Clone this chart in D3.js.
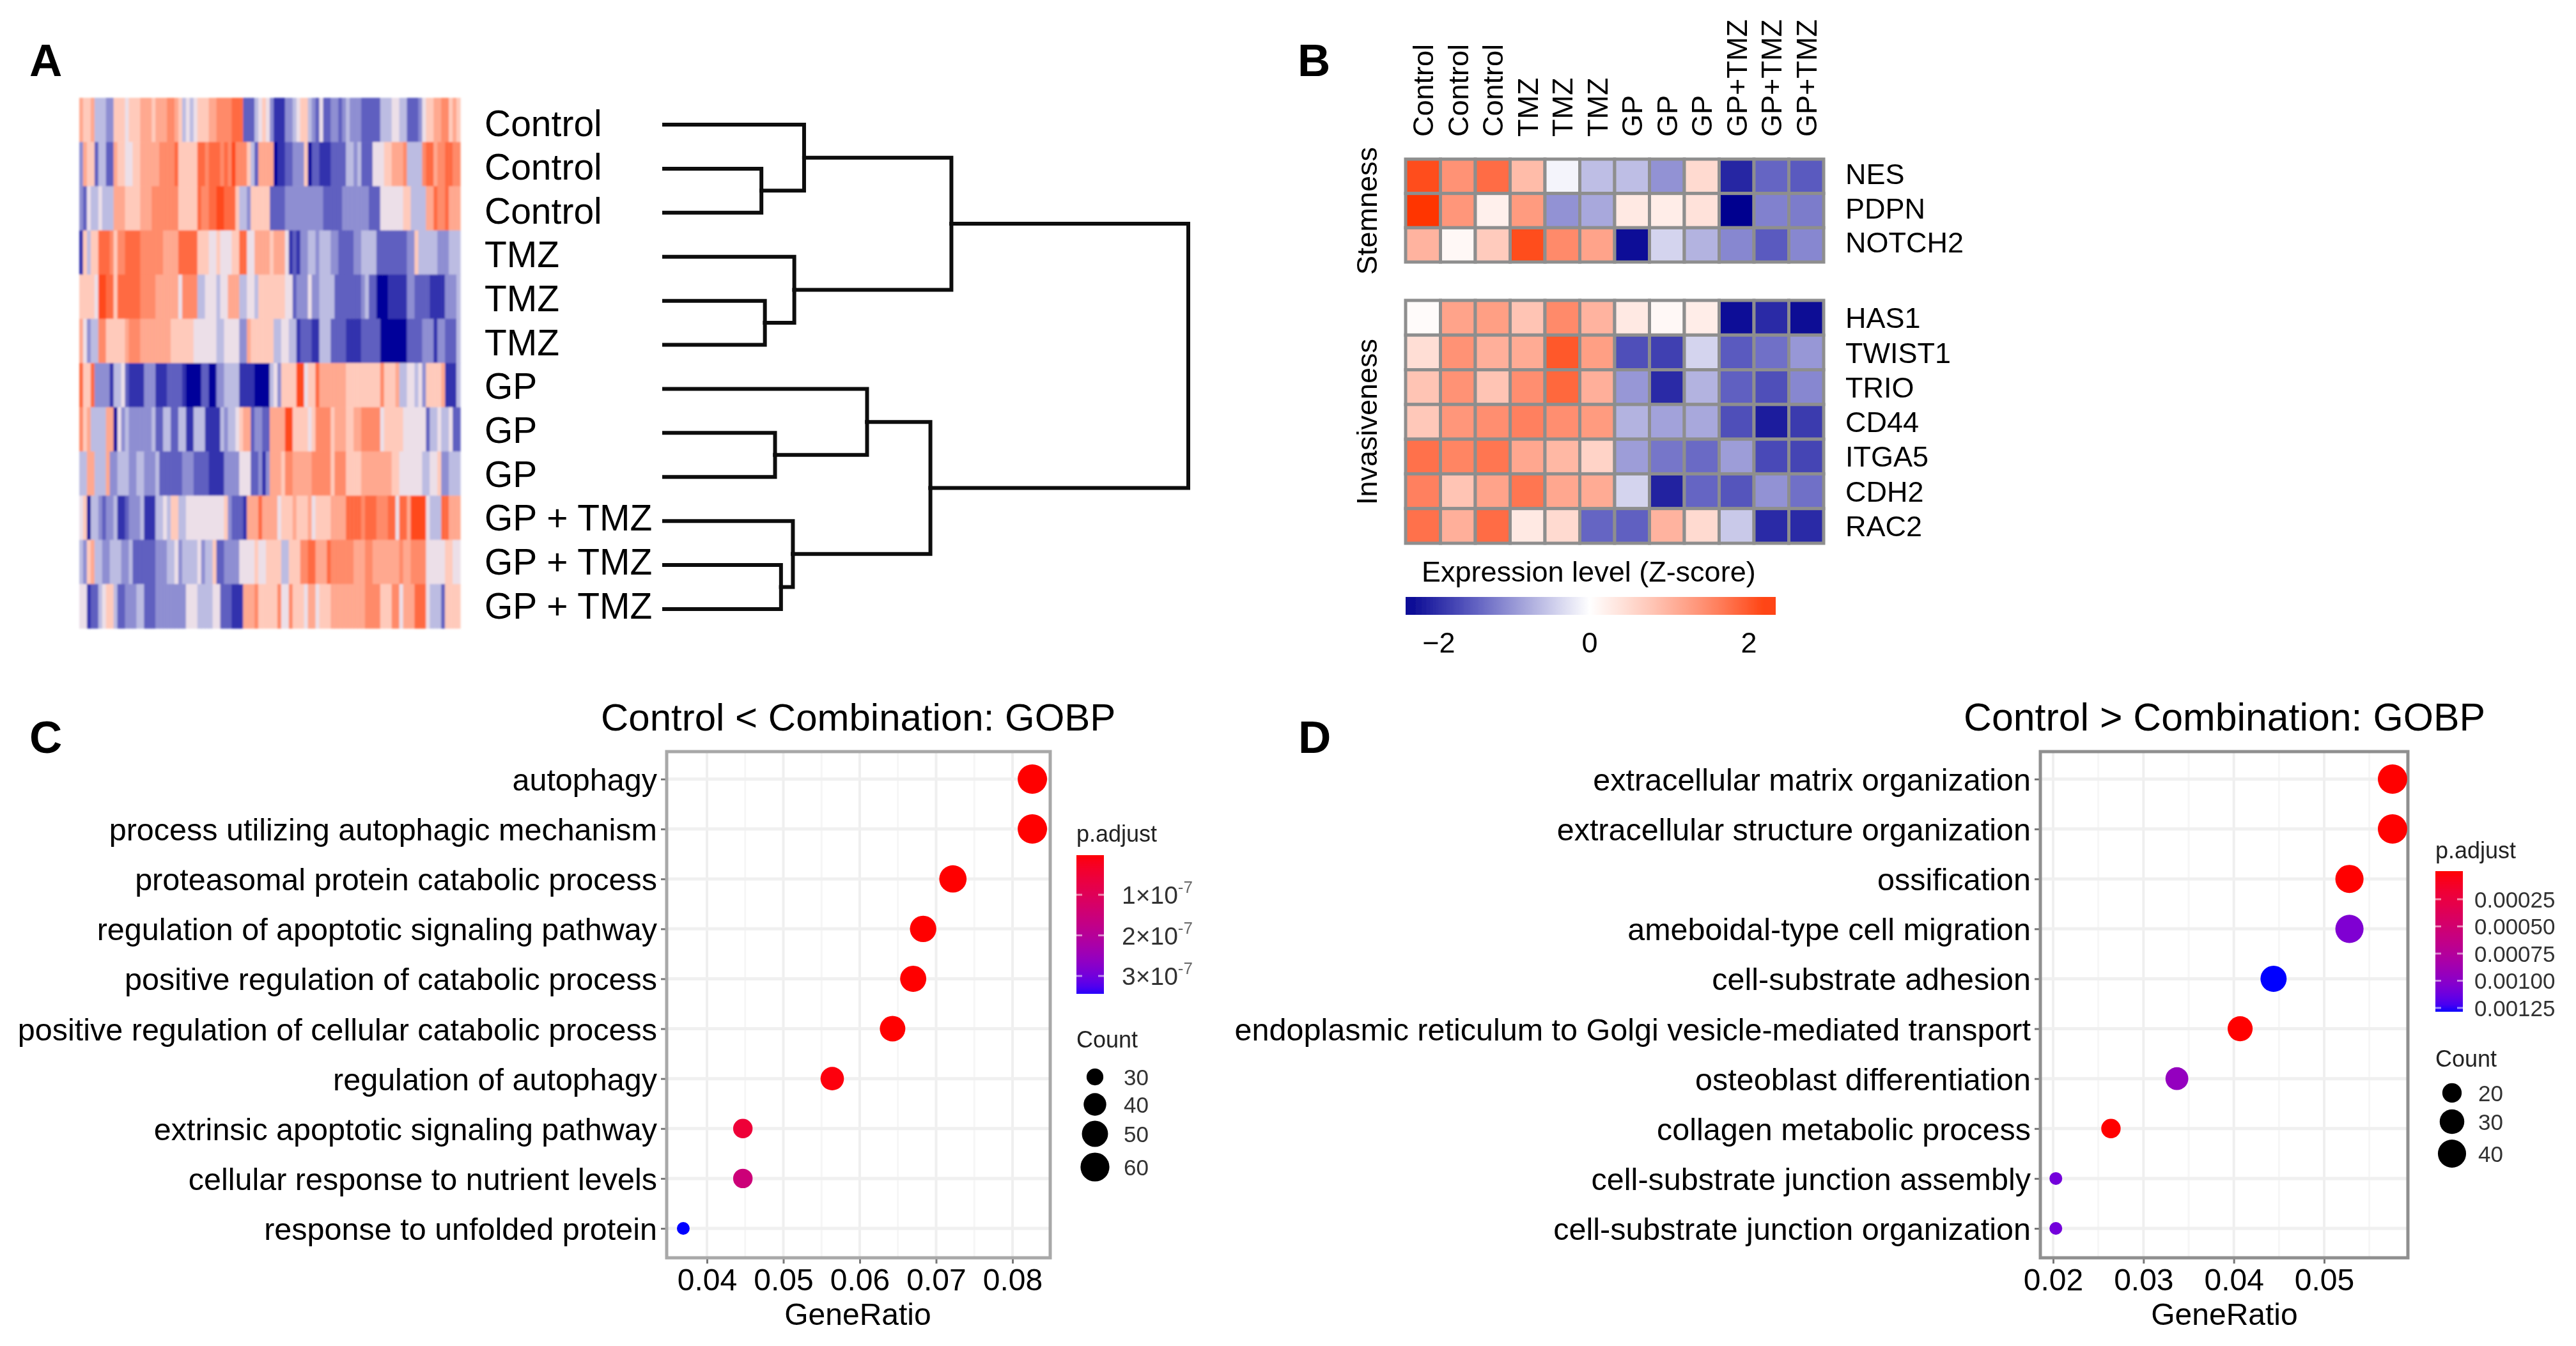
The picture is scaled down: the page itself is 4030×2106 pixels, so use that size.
<!DOCTYPE html>
<html>
<head>
<meta charset="utf-8">
<script src="https://cdn.jsdelivr.net/npm/d3@7/dist/d3.min.js"></script>
<style>
html,body{margin:0;padding:0;background:#fff;}
svg{display:block;}
text{font-family:"Liberation Sans",Arial,sans-serif;fill:#000;}
</style>
</head>
<body>
<div id="chart"></div>
<script>
// ---------- Panel A data ----------
const sampleLabelsA = ["Control","Control","Control","TMZ","TMZ","TMZ","GP","GP","GP","GP + TMZ","GP + TMZ","GP + TMZ"];
// Expression per gene on a -5..5 level scale
const heatmapA = [
[2,1,1,2,-1,-1,-1,-2,-2,1,1,1,0,1,1,1,2,2,2,1,2,2,2,3,3,2,1,-1,0,-1,0,1,1,1,2,2,3,3,3,3,4,4,4,-3,-3,-3,-1,0,1,0,-2,-4,-4,-4,-2,-2,-1,0,1,1,-1,-2,-3,0,-3,-3,-2,-2,-3,-2,-1,-2,-2,-2,-3,-3,-3,-3,-3,-1,-1,-1,0,0,-1,-1,-3,-3,-3,-2,0,1,1,2,2,3,3,1,2,1],
[-2,2,1,1,-3,-1,-1,-3,-3,2,1,1,0,0,1,1,2,2,2,2,2,3,3,3,3,4,1,1,1,1,1,4,4,3,4,4,4,3,4,3,5,3,3,3,1,-1,-3,2,2,2,2,-5,-4,-4,-3,-3,-2,-2,-2,1,-5,-3,-3,-4,-4,-4,-3,-3,-3,-3,-1,-1,-2,-1,-3,-3,-3,0,0,0,1,1,2,2,2,3,-1,-1,-1,-1,3,4,4,2,3,3,4,4,3,3],
[-2,-3,0,-1,-1,0,-1,-1,-1,2,2,2,1,1,1,1,2,2,2,3,3,3,3,3,3,3,1,1,1,1,1,4,3,3,4,4,5,5,4,4,4,1,-1,-1,-2,1,1,1,1,1,-3,-3,-3,-3,-2,-2,-2,-2,-2,-2,-2,-2,-2,-2,-3,-3,-3,-3,-3,-2,-2,-2,-2,-2,-2,-2,-3,-3,-3,0,0,0,0,0,0,1,1,-1,-1,-1,-1,2,2,4,3,3,4,2,2,2],
[-4,1,-1,1,1,4,4,4,3,1,3,3,4,4,4,4,3,3,3,3,3,3,2,2,2,2,4,4,4,4,4,1,1,1,0,0,1,0,0,0,1,1,4,4,0,0,2,2,2,2,1,2,2,2,0,-4,-3,-4,-2,-2,-1,-1,-2,-1,-1,-1,-2,-2,-3,-3,-3,-3,-2,-2,-1,-1,-1,-1,-3,-3,-3,-3,-3,-3,-3,-3,-2,-2,1,-1,-1,-1,-1,-1,-2,-2,-2,-1,-1,-1],
[1,1,1,1,0,5,5,4,4,1,4,4,4,4,4,4,3,3,3,3,2,2,2,2,2,2,0,3,3,3,3,-1,-1,0,0,0,-1,0,0,2,2,2,-1,-1,0,0,-1,1,1,1,1,1,1,1,0,0,-3,-2,-2,-2,0,-2,-2,-1,-1,-1,-1,-3,-3,-3,-3,-3,-3,-3,-2,-1,-3,-3,-5,-5,-5,-4,-4,-4,-4,-4,-2,-2,-3,-3,-3,-3,-4,-4,-4,-4,-2,-2,-2,-1],
[2,0,-2,-1,-1,3,3,1,1,1,1,1,2,3,3,3,2,2,2,2,2,2,2,2,1,1,1,1,1,1,0,0,0,0,0,0,-1,-1,0,0,0,0,-2,-2,2,1,1,1,1,1,1,-1,-1,0,0,-1,-1,-4,-3,-3,-3,-4,-4,-1,-1,-1,-3,-3,-3,-3,-4,-4,-4,-4,-3,-3,-3,-3,-3,-5,-5,-5,-5,-5,-5,-5,-3,-3,-3,-3,-2,-2,-2,-4,-2,-2,-3,-3,-3,-1],
[4,1,1,4,-2,-2,-2,-2,-4,-1,-1,0,-3,-4,-4,-4,-4,-2,-2,-2,-4,-4,-4,-3,-3,-3,-3,-4,-5,-5,-5,-5,-3,-3,-5,-5,-2,-2,-1,-1,-1,-1,-4,-4,-4,-4,-5,-5,-5,-5,-1,0,-2,1,1,1,1,5,5,0,1,1,4,2,2,2,2,2,2,2,1,1,1,1,1,1,1,1,1,3,1,1,1,2,-1,-1,0,0,-1,0,-2,1,1,1,1,2,-4,-4,-4,-1],
[3,1,2,-1,-1,-1,-1,2,2,-5,0,-2,-1,-2,-2,-2,-2,-2,-2,-1,-3,-3,-1,-1,-3,-3,-1,-1,-4,-4,-1,-1,-1,-4,-4,-4,-4,-1,-2,-1,-1,0,1,2,2,-3,-2,-2,-3,-3,2,2,2,2,5,5,1,1,1,1,0,1,3,3,3,3,1,2,2,2,1,1,2,2,3,3,3,3,3,0,1,1,1,1,1,0,0,0,0,0,0,-3,-1,-1,0,-1,-1,0,-3,-3],
[-1,-1,2,2,-1,-1,-1,2,-2,-2,-1,-1,-1,-2,-2,-1,-1,-2,-2,-2,-1,-3,-3,-3,-3,-3,-3,-2,-2,-2,-3,-3,-3,-3,-4,-4,-4,-4,-2,-2,-2,-2,0,0,0,-3,-3,-2,-4,-2,2,2,2,1,3,3,2,2,2,2,2,3,3,3,3,3,1,3,3,3,1,1,1,1,2,2,2,2,2,2,2,2,1,1,0,0,0,0,0,0,-1,-1,0,0,1,-2,-2,-1,-1,-1],
[0,1,-5,-1,-1,-2,-3,-2,-2,-1,-4,-4,-3,-2,-2,-2,-1,-4,-4,-4,-1,-1,0,-1,1,1,-1,-1,0,0,0,0,0,0,0,0,0,0,1,-2,-3,-3,-3,-4,2,2,2,4,2,2,2,2,0,1,1,1,2,1,1,1,2,0,1,1,1,1,2,2,2,2,4,4,4,4,3,4,4,4,3,3,3,4,4,0,4,4,2,5,5,5,5,0,-1,-1,-1,4,4,2,2,2],
[-1,-2,1,2,-1,-1,-2,-2,-1,-1,-1,-2,-2,-1,-3,-3,-3,-3,-3,-3,-2,-2,-2,-1,-1,0,-2,-1,-1,-1,-1,0,-2,-1,-1,1,-3,-3,-2,-2,-2,-2,0,0,0,0,1,0,0,1,1,1,1,-1,-1,1,1,1,3,3,4,4,2,2,2,4,3,3,3,3,3,3,2,2,2,3,3,2,2,2,2,2,2,2,3,2,2,3,3,3,3,0,0,0,0,0,1,1,0,0],
[0,0,-4,-3,-3,-1,0,1,1,-1,-3,-3,-2,-2,-2,-1,-1,-3,-3,-3,-2,-2,-2,-2,-2,-2,-2,-2,0,0,0,-1,-1,-1,-1,0,0,-3,-3,-3,-4,-4,-4,2,2,2,3,1,1,1,1,1,3,0,0,3,1,1,1,0,2,2,0,1,1,1,2,2,2,2,2,2,2,2,2,3,3,3,3,1,1,1,3,3,0,2,2,2,4,4,4,0,-1,-1,-1,-3,1,1,1,1]
];
const levelsA = [-5,-4,-3,-2,-1,0,1,2,3,4,5];
const levelColorsA = ["#00009a","#3232ad","#5f5fc0","#8e8ed2","#bcbce2","#ecdfe8","#ffcabb","#ffa88f","#ff8a69","#ff6b42","#ff4a1a"];
// Dendrogram: merge heights in distance units, leaves are row indices of heatmapA
const dendrogramA = {h:1498,children:[
  {h:821,children:[
    {h:400,children:[{leaf:0},{h:278,children:[{leaf:1},{leaf:2}]}]},
    {h:372,children:[{leaf:3},{h:288,children:[{leaf:4},{leaf:5}]}]}
  ]},
  {h:761,children:[
    {h:580,children:[{leaf:6},{h:317,children:[{leaf:7},{leaf:8}]}]},
    {h:368,children:[{leaf:9},{h:334,children:[{leaf:10},{leaf:11}]}]}
  ]}
]};

// ---------- Panel B data ----------
const sampleLabelsB = ["Control","Control","Control","TMZ","TMZ","TMZ","GP","GP","GP","GP+TMZ","GP+TMZ","GP+TMZ"];
const genesStemness = ["NES","PDPN","NOTCH2"];
const zStemness = [
[2.1,1.4,1.8,0.9,-0.1,-0.6,-0.6,-1.0,0.5,-2.0,-1.4,-1.5],
[2.35,1.35,0.2,1.3,-1.0,-0.8,0.3,0.25,0.4,-2.35,-1.15,-1.2],
[1.0,0.1,0.7,2.1,1.5,1.2,-2.2,-0.4,-0.7,-1.1,-1.5,-1.1]];
const genesInvasiveness = ["HAS1","TWIST1","TRIO","CD44","ITGA5","CDH2","RAC2"];
const zInvasiveness = [
[0.05,1.2,1.25,0.8,1.5,1.0,0.3,0.1,0.25,-2.2,-1.95,-2.25],
[0.45,1.4,1.05,1.1,2.0,1.25,-1.6,-1.75,-0.4,-1.5,-1.3,-0.95],
[0.8,1.4,0.8,1.45,1.85,1.05,-0.95,-1.95,-0.7,-1.45,-1.6,-1.1],
[0.75,1.35,1.45,1.6,1.45,1.3,-0.7,-0.85,-0.8,-1.6,-2.1,-1.8],
[1.75,1.55,1.7,1.15,0.95,0.6,-0.9,-1.25,-1.35,-0.9,-1.65,-1.7],
[1.6,0.8,1.2,1.7,1.15,1.1,-0.4,-2.05,-1.4,-1.55,-1.0,-1.3],
[1.75,1.05,1.8,0.3,0.5,-1.4,-1.45,1.0,0.5,-0.5,-1.95,-1.95]];
const zLegendTicks = [-2,0,2];
const zStopValues = [-2.35,-1.5,-0.8,0,0.8,1.5,2.35];
const zStopColors = ["#00008f","#5a5abf","#a8a8dc","#ffffff","#ffc4b4","#ff8a6a","#ff3500"];

// ---------- Panels C and D data ----------
const termsC = ["autophagy","process utilizing autophagic mechanism","proteasomal protein catabolic process","regulation of apoptotic signaling pathway","positive regulation of catabolic process","positive regulation of cellular catabolic process","regulation of autophagy","extrinsic apoptotic signaling pathway","cellular response to nutrient levels","response to unfolded protein"];
const ratioC = [0.0826,0.0826,0.0722,0.0683,0.0670,0.0643,0.0564,0.0447,0.0447,0.0369];
const countC = [62,62,54,51,50,48,42,33.5,33.5,28];
const padjC = [0,0,0,0,0,0,0.05e-7,0.55e-7,1.5e-7,3.5e-7];
const xTicksC = [0.04,0.05,0.06,0.07,0.08];
const xMinorC = [0.045,0.055,0.065,0.075];
const countLegendC = [30,40,50,60];
const padjTicksC = [1e-7,2e-7,3e-7];

const termsD = ["extracellular matrix organization","extracellular structure organization","ossification","ameboidal-type cell migration","cell-substrate adhesion","endoplasmic reticulum to Golgi vesicle-mediated transport","osteoblast differentiation","collagen metabolic process","cell-substrate junction assembly","cell-substrate junction organization"];
const ratioD = [0.05757,0.05757,0.0528,0.0528,0.0444,0.0407,0.0337,0.0264,0.0203,0.0203];
const countD = [44,44,40,40,34,31,26,20,15.5,15.5];
const padjD = [0,0,0,0.00105,0.00129,0,0.00095,0,0.0011,0.0011];
const xTicksD = [0.02,0.03,0.04,0.05];
const xMinorD = [0.025,0.035,0.045,0.055];
const countLegendD = [20,30,40];
const padjTicksD = [0.00025,0.0005,0.00075,0.001,0.00125];

// ---------- Drawing ----------
const W = 4030, H = 2106;
const svg = d3.select("#chart").append("svg").attr("width",W).attr("height",H).attr("viewBox",`0 0 ${W} ${H}`);
const defs = svg.append("defs");
defs.append("filter").attr("id","soft").attr("x","-2%").attr("y","-2%").attr("width","104%").attr("height","104%")
  .append("feGaussianBlur").attr("stdDeviation",1.8);
defs.append("filter").attr("id","softer").attr("x","-1%").attr("y","-1%").attr("width","102%").attr("height","102%")
  .append("feGaussianBlur").attr("stdDeviation",0.6);
const root = svg.append("g").attr("filter","url(#softer)");
root.append("rect").attr("width",W).attr("height",H).attr("fill","#fff");

const colorZ = d3.scaleLinear().domain(zStopValues).range(zStopColors).interpolate(d3.interpolateRgb).clamp(true);
const colorLevel = d3.scaleLinear().domain(levelsA).range(levelColorsA).interpolate(d3.interpolateRgb).clamp(true);

// panel letters
[["A",46,119],["B",2030,119],["C",46,1178],["D",2031,1178]].forEach(([t,x,y])=>{
  root.append("text").attr("x",x).attr("y",y).attr("font-size",71).attr("font-weight","bold").text(t);
});

// ---- Panel A
{
  const nCol = heatmapA[0].length;
  const x = d3.scaleBand().domain(d3.range(nCol)).range([124,720]);
  const y = d3.scaleBand().domain(d3.range(heatmapA.length)).range([153,983]);
  const g = root.append("g").attr("filter","url(#soft)");
  heatmapA.forEach((row,i)=>{
    g.selectAll(null).data(row).join("rect")
      .attr("x",(d,j)=>x(j)).attr("y",y(i))
      .attr("width",x.bandwidth()+0.6).attr("height",y.bandwidth()+0.6)
      .attr("fill",d=>colorLevel(d));
  });
  const labelY = d3.scalePoint().domain(d3.range(12)).range([192,947]);
  root.selectAll(null).data(sampleLabelsA).join("text")
    .attr("x",758).attr("y",(d,i)=>labelY(i)).attr("dy","0.36em")
    .attr("font-size",57).text(d=>d);

  const leafY = d3.scalePoint().domain(d3.range(12)).range([195,953]);
  const hx = d3.scaleLinear().domain([0,1498]).range([1039,1859]);
  const h = d3.hierarchy(dendrogramA);
  h.eachAfter(n=>{
    if(n.children){ n.py = d3.mean(n.children,c=>c.py); n.px = hx(n.data.h); }
    else { n.py = leafY(n.data.leaf); n.px = hx(0); }
  });
  const links = [];
  h.each(n=>{ if(n.children){ n.children.forEach(c=>links.push(`M${c.px},${c.py}H${n.px}V${n.py}`)); } });
  root.append("g").selectAll("path").data(links).join("path")
    .attr("d",d=>d).attr("fill","none").attr("stroke","#0c0c0c").attr("stroke-width",6).attr("stroke-linecap","square");
}

// ---- Panel B
{
  const x = d3.scaleBand().domain(d3.range(12)).range([2199,2853]);
  const drawBlock = (genes,vals,r0,r1,labelShift)=>{
    const y = d3.scaleBand().domain(genes).range([r0,r1]);
    vals.forEach((row,i)=>{
      root.append("g").selectAll("rect").data(row).join("rect")
        .attr("x",(d,j)=>x(j)).attr("y",y(genes[i]))
        .attr("width",x.bandwidth()).attr("height",y.bandwidth())
        .attr("fill",d=>colorZ(d)).attr("stroke","#8e8e8e").attr("stroke-width",5);
    });
    root.append("g").selectAll("text").data(genes).join("text")
      .attr("x",2887).attr("y",d=>y(d)+y.bandwidth()/2+labelShift).attr("dy","0.36em")
      .attr("font-size",45).text(d=>d);
  };
  drawBlock(genesStemness,zStemness,249,410,-4);
  drawBlock(genesInvasiveness,zInvasiveness,470,850,0);
  root.append("g").selectAll("text").data(sampleLabelsB).join("text")
    .attr("transform",(d,i)=>`translate(${x(i)+x.bandwidth()/2},214) rotate(-90)`)
    .attr("dy","0.36em").attr("font-size",45).text(d=>d);
  [["Stemness",330],["Invasiveness",660]].forEach(([t,cy])=>{
    root.append("text").attr("transform",`translate(2138,${cy}) rotate(-90)`)
      .attr("text-anchor","middle").attr("dy","0.36em").attr("font-size",45).text(t);
  });
  // legend
  root.append("text").attr("x",2224).attr("y",894).attr("dy","0.36em").attr("font-size",45).text("Expression level (Z-score)");
  const zx = d3.scaleLinear().domain([-2,2]).range([2238,2736]);
  const grad = defs.append("linearGradient").attr("id","zgrad");
  grad.selectAll("stop").data(d3.ticks(-2.33,2.33,24)).join("stop")
    .attr("offset",d=>(zx(d)-2199)/(2778-2199)).attr("stop-color",d=>colorZ(d));
  root.append("rect").attr("x",2199).attr("y",934).attr("width",579).attr("height",28).attr("fill","url(#zgrad)");
  root.append("g").selectAll("text").data(zLegendTicks).join("text")
    .attr("x",d=>zx(d)+(d<0?13:0)).attr("y",1005).attr("dy","0.36em").attr("text-anchor","middle")
    .attr("font-size",45).text(d=>d<0?"\u2212"+(-d):d);
}

// ---- Panels C, D
function dotPanel(o){
  const g = root.append("g");
  const x = d3.scaleLinear().domain([o.xTicks[0],o.xTicks[o.xTicks.length-1]]).range(o.xRange);
  const y = d3.scalePoint().domain(o.terms).range(o.yRange);
  const [L,R,T,B] = o.box;
  g.append("rect").attr("x",L).attr("y",T).attr("width",R-L).attr("height",B-T).attr("fill","#fff");
  g.append("g").selectAll("line").data(o.xMinor).join("line")
    .attr("x1",d=>x(d)).attr("x2",d=>x(d)).attr("y1",T).attr("y2",B).attr("stroke","#f6f6f6").attr("stroke-width",3);
  g.append("g").selectAll("line").data(o.xTicks).join("line")
    .attr("x1",d=>x(d)).attr("x2",d=>x(d)).attr("y1",T).attr("y2",B).attr("stroke","#efefef").attr("stroke-width",4);
  g.append("g").selectAll("line").data(o.terms).join("line")
    .attr("x1",L).attr("x2",R).attr("y1",d=>y(d)).attr("y2",d=>y(d)).attr("stroke","#f0f0f0").attr("stroke-width",5);
  // axes
  const ax = g.append("g").attr("transform",`translate(0,${B})`)
    .call(d3.axisBottom(x).tickValues(o.xTicks).tickFormat(d3.format(".2f")).tickSize(9).tickPadding(8));
  ax.select(".domain").remove();
  ax.selectAll("line").attr("stroke","#777").attr("stroke-width",3);
  ax.selectAll("text").attr("font-size",48).attr("font-family",null).style("fill","#000");
  const ay = g.append("g").attr("transform",`translate(${L},0)`)
    .call(d3.axisLeft(y).tickSize(9).tickPadding(6));
  ay.select(".domain").remove();
  ay.selectAll("line").attr("stroke","#777").attr("stroke-width",3);
  ay.selectAll("text").attr("font-size",o.labelSize).attr("font-family",null).attr("dy","0.36em").style("fill","#000");
  // border
  g.append("rect").attr("x",L).attr("y",T).attr("width",R-L).attr("height",B-T)
    .attr("fill","none").attr("stroke",o.border).attr("stroke-width",5);
  // dots
  const rSize = d3.scaleSqrt().domain([0,o.countMax-o.countMin]).range([10,23]);
  const col = d3.scaleLinear().domain([0,o.padjMax]).range(["#ff0000","#0000ff"]).interpolate(d3.interpolateLab).clamp(true);
  g.append("g").selectAll("circle").data(o.terms).join("circle")
    .attr("cx",(d,i)=>x(o.ratio[i])).attr("cy",d=>y(d))
    .attr("r",(d,i)=>rSize(o.count[i]-o.countMin))
    .attr("fill",(d,i)=>col(o.padj[i]));
  // titles
  root.append("text").attr("x",o.titleX).attr("y",1121).attr("dy","0.36em").attr("font-size",o.titleSize).text(o.title);
  root.append("text").attr("x",(o.xLabelX)).attr("y",2056).attr("dy","0.36em").attr("text-anchor","middle").attr("font-size",48).text("GeneRatio");
  // colour legend
  const lg = o.legend;
  const ly = d3.scaleLinear().domain([o.padjTicks[0],o.padjTicks[o.padjTicks.length-1]]).range(lg.tickY);
  root.append("text").attr("x",lg.x).attr("y",lg.titleY).attr("dy","0.36em").attr("font-size",36).style("fill","#222").text("p.adjust");
  const id = "pg"+o.id;
  const gr = defs.append("linearGradient").attr("id",id).attr("x1",0).attr("x2",0).attr("y1",0).attr("y2",1);
  gr.selectAll("stop").data(d3.ticks(0,1,16)).join("stop")
    .attr("offset",d=>d).attr("stop-color",d=>col(ly.invert(lg.y0+d*(lg.y1-lg.y0))));
  root.append("rect").attr("x",lg.x).attr("y",lg.y0).attr("width",43).attr("height",lg.y1-lg.y0).attr("fill",`url(#${id})`);
  const tk = root.append("g");
  o.padjTicks.forEach(t=>{
    [lg.x,lg.x+34].forEach(x0=>{
      tk.append("line").attr("x1",x0).attr("x2",x0+9).attr("y1",ly(t)).attr("y2",ly(t)).attr("stroke","#fff").attr("stroke-opacity",0.55).attr("stroke-width",3);
    });
    const txt = tk.append("text").attr("x",lg.labelX).attr("y",ly(t)).attr("dy","0.36em").attr("font-size",lg.tickSize).style("fill","#333");
    if(o.sci){
      txt.append("tspan").text(`${Math.round(t*1e7)}\u00d710`);
      txt.append("tspan").attr("dy",-17).attr("font-size",26).style("fill","#666").text("-7");
    } else txt.text(d3.format(".5f")(t));
  });
  // size legend
  root.append("text").attr("x",lg.x).attr("y",lg.countTitleY).attr("dy","0.36em").attr("font-size",36).style("fill","#222").text("Count");
  root.append("g").selectAll("circle").data(o.countLegend).join("circle")
    .attr("cx",lg.keyX).attr("cy",(d,i)=>lg.keyY[i]).attr("r",d=>rSize(d-o.countMin)).attr("fill","#000");
  root.append("g").selectAll("text").data(o.countLegend).join("text")
    .attr("x",lg.keyLabelX).attr("y",(d,i)=>lg.keyY[i]).attr("dy","0.36em").attr("font-size",35).style("fill","#333").text(d=>d);
}

dotPanel({id:"C",terms:termsC,ratio:ratioC,count:countC,padj:padjC,xTicks:xTicksC,xMinor:xMinorC,
  xRange:[1106,1584],yRange:[1219,1922],box:[1043,1643,1176,1968],border:"#a8a8a8",labelSize:48.5,
  countMin:28,countMax:62,padjMax:3.5e-7,padjTicks:padjTicksC,countLegend:countLegendC,sci:true,
  title:"Control < Combination: GOBP",titleX:940,titleSize:60,xLabelX:1342,
  legend:{x:1684,y0:1338,y1:1555,tickY:[1400,1527],labelX:1755,tickSize:39,titleY:1304,countTitleY:1626,
    keyX:1713,keyY:[1685,1728,1774,1826],keyLabelX:1758}});

dotPanel({id:"D",terms:termsD,ratio:ratioD,count:countD,padj:padjD,xTicks:xTicksD,xMinor:xMinorD,
  xRange:[3212,3636],yRange:[1219,1922],box:[3192,3767,1176,1968],border:"#8f8f8f",labelSize:48.5,
  countMin:15.5,countMax:44,padjMax:0.00129,padjTicks:padjTicksD,countLegend:countLegendD,sci:false,
  title:"Control > Combination: GOBP",titleX:3072,titleSize:60.8,xLabelX:3480,
  legend:{x:3810,y0:1363,y1:1583,tickY:[1407,1577],labelX:3871,tickSize:35,titleY:1330,countTitleY:1656,
    keyX:3836,keyY:[1710,1755,1805],keyLabelX:3877}});
</script>
</body>
</html>
